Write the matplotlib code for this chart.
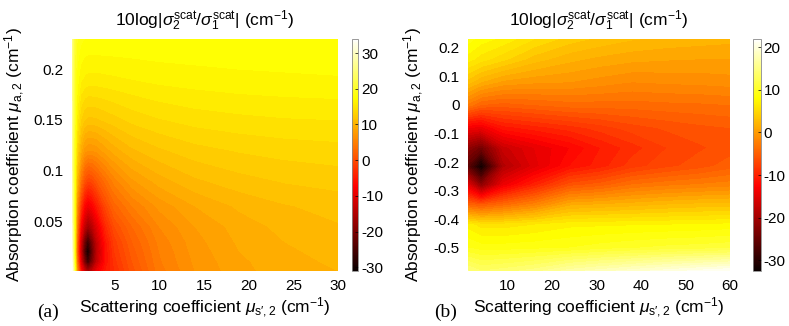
import numpy as np
import matplotlib
matplotlib.use("Agg")
import matplotlib.pyplot as plt
from matplotlib.colors import Normalize
from matplotlib.cm import ScalarMappable

plt.rcParams['font.family'] = ['Liberation Sans', 'DejaVu Sans']
plt.rcParams['mathtext.fontset'] = 'custom'
plt.rcParams['mathtext.rm'] = 'Liberation Sans'
plt.rcParams['mathtext.it'] = 'Liberation Sans:italic'

# panel (a): reduced scattering (cm-1) vs absorption (cm-1), values in dB
xa = [0.2, 0.5, 0.8, 1.2, 1.6, 2.0, 2.5, 3, 4, 5, 7, 10, 14, 19, 24, 30]
ya = [0.001, 0.01, 0.02, 0.03, 0.045, 0.065, 0.09, 0.12, 0.15, 0.19, 0.23]
za = [
    [34, 22, 6, -6, -12, -17, -13, -9, -5, -3, 0.5, 4.5, 7, 8.7, 9.5, 10],
    [33, 20, 3, -10, -20, -27, -20, -13, -6, -2.5, 1, 4.8, 7.2, 8.8, 9.6, 10.2],
    [32, 19, 1, -12, -24, -31, -22, -14, -6, -2, 1.5, 5, 7.4, 9, 9.8, 10.4],
    [31, 19, 2, -11, -21, -27, -20, -13, -5.5, -1.5, 2, 5.3, 7.6, 9.2, 10, 10.6],
    [30, 19, 4, -7, -13, -17, -14, -10, -3.5, 0, 3, 6, 8, 9.5, 10.3, 10.9],
    [29, 19, 6, -2, -7, -9, -7.5, -5, -0.5, 2.5, 5, 7.3, 9, 10.2, 10.9, 11.4],
    [28, 19, 10, 4, 0.5, -1, -0.5, 1, 3.5, 5.5, 7.8, 9.5, 10.8, 11.6, 12.1, 12.4],
    [27, 19.5, 13, 9.5, 7.5, 7, 7, 7.3, 8.5, 9.5, 10.8, 11.8, 12.6, 13.1, 13.4, 13.6],
    [27, 20, 15.5, 13, 12, 11.7, 11.7, 11.8, 12.2, 12.6, 13.3, 13.9, 14.4, 14.7, 14.9, 15],
    [26, 20, 17.5, 16.2, 15.8, 15.6, 15.6, 15.6, 15.7, 15.8, 16, 16.3, 16.5, 16.7, 16.8, 16.9],
    [26, 20.5, 19, 18.3, 18, 17.9, 17.9, 17.9, 17.9, 17.9, 17.9, 17.9, 17.9, 17.9, 17.9, 17.9],
]

# panel (b)
xb = [1, 4, 9, 16, 24, 31, 38, 46, 53, 60]
yb = [-0.58, -0.5, -0.42, -0.35, -0.28, -0.215, -0.15, -0.08, 0.0, 0.08, 0.16, 0.23]
# columns listed top (0.23) to bottom (-0.58), one list per x
cols_b = [
    [9, 7, 3, -2.8, -13.5, -21.6, -26, -15, -4.5, 7, 9.5, 14.6],
    [8, 6, 1.5, -4.5, -14, -24, -32.5, -22, -5.5, 6, 9, 13.5],
    [7.2, 4.8, 0.2, -5, -11, -17, -19, -14, -4, 6, 9, 14],
    [5.5, 3, -0.3, -4.5, -10, -14.5, -15, -10, -2, 6.5, 9.2, 15],
    [4, 1.8, -0.5, -4, -9, -12.5, -11.5, -6, 1.2, 7.2, 9.5, 17],
    [3.2, 1.2, -1, -4, -8, -10.5, -10, -5, 1.6, 7.3, 10, 18],
    [2.6, 0.8, -1.5, -4, -7, -9, -8, -3.5, 2, 7.4, 10.4, 19],
    [2.2, 0.6, -1.3, -3.8, -6.3, -7.5, -6.8, -2.8, 2.5, 7.5, 10.8, 20],
    [2, 0.5, -1.2, -3.7, -5.8, -6.7, -6, -2.4, 2.8, 7.6, 11, 20.8],
    [1.8, 0.5, -1, -3.5, -5.5, -6, -5, -2, 3, 7.8, 11.3, 21.5],
]

title = r'10log$|\sigma_2^{\rm scat}/\sigma_1^{\rm scat}|$ (cm$^{-1}$)'
xlab = r'Scattering coefficient $\mu_{\rm s\prime,2}$ (cm$^{-1}$)'
ylab = r'Absorption coefficient $\mu_{\rm a,2}$ (cm$^{-1}$)'

fig = plt.figure(figsize=(7.89, 3.26), dpi=100)
ax1 = fig.add_axes([0.091, 0.169, 0.3375, 0.712])
cax1 = fig.add_axes([0.4457, 0.169, 0.0084, 0.712])
ax2 = fig.add_axes([0.593, 0.169, 0.332, 0.712])
cax2 = fig.add_axes([0.9548, 0.169, 0.0093, 0.712])

Za = np.array(za)
Zb = np.array(cols_b).T[::-1]

norm1 = Normalize(-31, 34)
norm2 = Normalize(-32.5, 22)
ax1.contourf(xa, ya, Za, levels=np.arange(-31, 34.5, 1.0), cmap='hot', norm=norm1, extend='both')
ax2.contourf(xb, yb, Zb, levels=np.arange(-32.5, 22.5, 1.0), cmap='hot', norm=norm2, extend='both')

ax1.set_xlim(0.2, 30)
ax1.set_ylim(0.001, 0.23)
ax1.set_xticks([5, 10, 15, 20, 25, 30])
ax1.set_yticks([0.05, 0.1, 0.15, 0.2])
ax1.set_yticklabels(['0.05', '0.1', '0.15', '0.2'])

ax2.set_xlim(1, 60)
ax2.set_ylim(-0.58, 0.23)
ax2.set_xticks([10, 20, 30, 40, 50, 60])
yt = [0.2, 0.1, 0, -0.1, -0.2, -0.3, -0.4, -0.5]
ax2.set_yticks(yt)
ax2.set_yticklabels(['0.2', '0.1', '0', '-0.1', '-0.2', '-0.3', '-0.4', '-0.5'])

for ax, tag in [(ax1, '(a)'), (ax2, '(b)')]:
    for s in ax.spines.values():
        s.set_visible(False)
    ax.tick_params(length=0, labelsize=11, pad=6)
    ax.set_title(title, fontsize=12.5, pad=9)
    ax.set_xlabel(xlab, fontsize=12.5, labelpad=2)
    ax.set_ylabel(ylab, fontsize=12.5, labelpad=5)
    ax.text(-0.13, -0.177, tag, transform=ax.transAxes, fontsize=14,
            family='Liberation Serif', ha='left', va='center')

for cax, norm, ticks in [(cax1, norm1, [-30, -20, -10, 0, 10, 20, 30]),
                         (cax2, norm2, [-30, -20, -10, 0, 10, 20])]:
    cb = fig.colorbar(ScalarMappable(norm=norm, cmap='hot'), cax=cax)
    cb.set_ticks(ticks)
    cb.set_ticklabels([str(t) for t in ticks])
    cb.outline.set_edgecolor('#888888')
    cb.outline.set_linewidth(0.6)
    cax.tick_params(direction='in', length=2, width=0.5, labelsize=11, pad=2)

fig.savefig('out.png', dpi=100)
